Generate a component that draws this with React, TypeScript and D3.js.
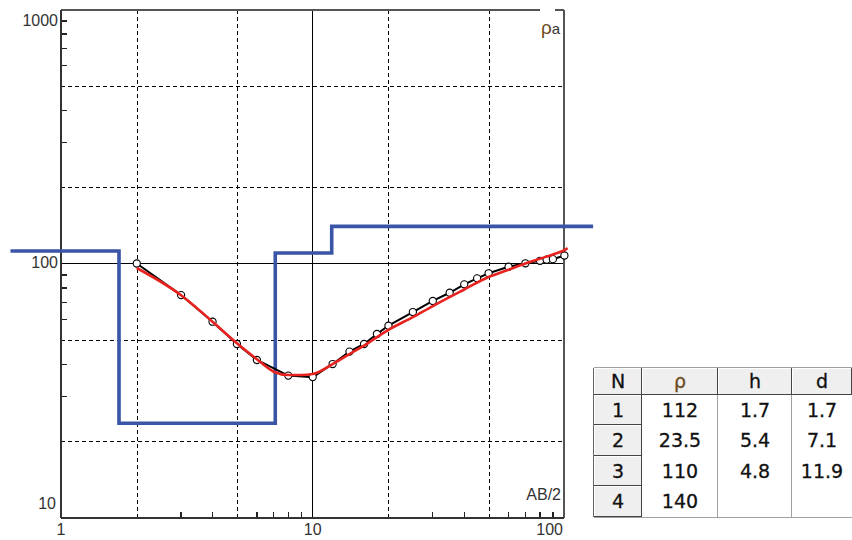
import React from "react";
import * as d3 from "d3";

// field sounding: AB/2 (m) and apparent resistivity (Ohm.m)
const fieldAB = [2, 3, 4, 5, 6, 8, 10, 12, 14, 16, 18, 20, 25, 30, 35, 40, 45, 50, 60, 70, 80, 85, 90, 100];
const fieldRho = [100, 75.1, 59, 48.2, 41.7, 36.2, 35.7, 40.2, 45, 48.2, 52.8, 56.9, 64.4, 71.2, 76.7, 82.8, 87.4, 91.5, 97.1, 100.2, 102.5, 103.5, 104, 107.5];

// calculated curve of the model
const modelAB = [2, 3, 4, 5, 6, 7, 8, 9, 10, 12, 14, 16, 20, 25, 30, 40, 50, 60, 70, 80, 90, 100, 103];
const modelRho = [96, 75, 59, 48.5, 42, 37.5, 36.4, 36.4, 36.7, 40.2, 44, 47.5, 54.8, 61.5, 68, 79, 88.5, 94.5, 100, 104.5, 108.5, 113, 115];

// layer model
const layerN = ["1", "2", "3", "4"];
const layerRho = [112, 23.5, 110, 140];
const layerH = [1.7, 5.4, 4.8];
const layerD = [1.7, 7.1, 11.9];
const stepStart = 0.63;
const stepEnd = 130;

// axes
const xLabels = [1, 10, 100];
const yLabels = [10, 100, 1000];
const xDashed = [2, 5, 20, 50];
const yDashed = [20, 50, 200, 500];
const xMinor = [3, 4, 6, 7, 8, 9, 30, 40, 60, 70, 80, 90];
const yMinor = [30, 40, 60, 70, 80, 90, 300, 400, 600, 700, 800, 900];
const tableHead = ["N", "ρ", "h", "d"];

const x = d3.scaleLog().domain([1, 100]).range([61, 564.4]);
const y = d3.scaleLog().domain([10, 1000]).range([517.5, 9.5]);

const font = "'Liberation Sans', Arial, sans-serif";
const tableFont = "'DejaVu Sans', sans-serif";

export default function App() {
  const left = 61, right = 564.4, top = 9.5, bottom = 517.5;

  const field = fieldAB.map((a, i) => [a, fieldRho[i]] as [number, number]);
  const model = modelAB.map((a, i) => [a, modelRho[i]] as [number, number]);

  const pts = d3.line<[number, number]>().x(d => x(d[0])).y(d => y(d[1]));
  const smooth = d3.line<[number, number]>().x(d => x(d[0])).y(d => y(d[1])).curve(d3.curveMonotoneX);

  // step line of the layer model
  const step: [number, number][] = [];
  let from = stepStart;
  layerRho.forEach((r, i) => {
    const to = i < layerD.length ? layerD[i] : stepEnd;
    step.push([from, r]);
    step.push([to, r]);
    from = to;
  });

  // table geometry
  const colX = [594, 642, 718, 792, 852];
  const rowY = [368, 395, 425, 456, 486, 517];
  const rows = layerN.map((n, i) => [
    n,
    String(layerRho[i]),
    i < layerH.length ? layerH[i].toFixed(1) : "",
    i < layerD.length ? layerD[i].toFixed(1) : "",
  ]);

  const button = (x0: number, y0: number, x1: number, y1: number, key: string) => (
    <g key={key}>
      <rect x={x0} y={y0} width={x1 - x0} height={y1 - y0} fill="#efefef" />
      <line x1={x0 + 0.5} y1={y0 + 0.5} x2={x1 - 1} y2={y0 + 0.5} stroke="#fff" />
      <line x1={x0 + 0.5} y1={y0 + 0.5} x2={x0 + 0.5} y2={y1 - 1} stroke="#fff" />
      <line x1={x0} y1={y1 - 0.5} x2={x1} y2={y1 - 0.5} stroke="#444" />
      <line x1={x1 - 0.5} y1={y0} x2={x1 - 0.5} y2={y1} stroke="#444" />
    </g>
  );

  return (
    <div style={{ position: "fixed", left: 0, top: 0 }}>
      <svg width={852} height={540} style={{ display: "block", background: "#fff" }}>
        {/* grid */}
        <g shapeRendering="crispEdges">
          {xDashed.map(v => (
            <line key={"gx" + v} x1={Math.round(x(v)) + 0.5} x2={Math.round(x(v)) + 0.5} y1={top} y2={bottom}
              stroke="#000" strokeWidth={1.3} strokeDasharray="4,3" />
          ))}
          {yDashed.map(v => (
            <line key={"gy" + v} x1={left} x2={right} y1={Math.round(y(v)) + 0.5} y2={Math.round(y(v)) + 0.5}
              stroke="#000" strokeWidth={1.3} strokeDasharray="4,3" />
          ))}
          <line x1={x(10)} x2={x(10)} y1={top} y2={bottom} stroke="#000" strokeWidth={1.3} />
          <line x1={left} x2={right} y1={y(100)} y2={y(100)} stroke="#000" strokeWidth={1.3} />

          {/* minor ticks */}
          {xMinor.map(v => (
            <line key={"tx" + v} x1={x(v)} x2={x(v)} y1={bottom} y2={bottom - 6} stroke="#222" strokeWidth={1.3} />
          ))}
          {yMinor.map(v => (
            <line key={"ty" + v} x1={left} x2={left + 6} y1={y(v)} y2={y(v)} stroke="#222" strokeWidth={1.3} />
          ))}

          {/* frame */}
          <line x1={left} x2={540} y1={top} y2={top} stroke="#555" strokeWidth={2} />
          <line x1={555} x2={right} y1={top} y2={top} stroke="#555" strokeWidth={2} />
          <line x1={right} x2={right} y1={top} y2={bottom} stroke="#555" strokeWidth={2} />
          <line x1={left} x2={right} y1={bottom} y2={bottom} stroke="#333" strokeWidth={2} />
          <line x1={left} x2={left} y1={top} y2={bottom} stroke="#333" strokeWidth={2} />
        </g>

        {/* layer model */}
        <path d={pts(step) || ""} fill="none" stroke="#3a55a6" strokeWidth={3.6} />

        {/* field data */}
        <path d={pts(field) || ""} fill="none" stroke="#000" strokeWidth={2} />
        {field.map((d, i) => (
          <circle key={"c" + i} cx={x(d[0])} cy={y(d[1])} r={3.6} fill="#fff" stroke="#000" strokeWidth={1.1} />
        ))}

        {/* calculated curve */}
        <path d={smooth(model) || ""} fill="none" stroke="#e8231f" strokeWidth={2.6} />

        {/* axis labels */}
        <g fontFamily={font} fontSize={16} fill="#333">
          <text x={58} y={22} textAnchor="end" dominantBaseline="middle">1000</text>
          <text x={58} y={y(yLabels[1])} textAnchor="end" dominantBaseline="middle">100</text>
          <text x={56} y={505} textAnchor="end" dominantBaseline="middle">10</text>
          <text x={x(xLabels[0])} y={531} textAnchor="middle" dominantBaseline="middle">1</text>
          <text x={x(xLabels[1])} y={531} textAnchor="middle" dominantBaseline="middle">10</text>
          <text x={563} y={531} textAnchor="end" dominantBaseline="middle">100</text>
          <text x={561} y={496} textAnchor="end" dominantBaseline="middle">AB/2</text>
          <text x={541} y={34}>
            <tspan fill="#6b4a20" fontSize={19}>ρ</tspan>
            <tspan fill="#333" fontSize={15}>a</tspan>
          </text>
        </g>

        {/* layer table */}
        <g fontFamily={tableFont} fontSize={19}>
          <rect x={colX[0]} y={rowY[0]} width={colX[4] - colX[0]} height={rowY[5] - rowY[0]} fill="#fff" />
          {tableHead.map((h, j) => button(colX[j], rowY[0], colX[j + 1], rowY[1], "h" + j))}
          {layerN.map((n, i) => button(colX[0], rowY[i + 1], colX[1], rowY[i + 2], "n" + i))}
          {[2, 3].map(j => (
            <line key={"v" + j} x1={colX[j] - 0.5} x2={colX[j] - 0.5} y1={rowY[1]} y2={rowY[5]} stroke="#a0a0a0" />
          ))}
          <line x1={colX[0]} x2={colX[4]} y1={rowY[5] + 0.5} y2={rowY[5] + 0.5} stroke="#a0a0a0" />
          <line x1={colX[0] - 0.5} x2={colX[0] - 0.5} y1={rowY[0]} y2={rowY[5]} stroke="#666" />
          <line x1={colX[0]} x2={colX[4]} y1={rowY[0] - 0.5} y2={rowY[0] - 0.5} stroke="#a0a0a0" />
          {tableHead.map((h, j) => (
            <text key={"ht" + j} x={(colX[j] + colX[j + 1]) / 2} y={(rowY[0] + rowY[1]) / 2 + 1}
              textAnchor="middle" dominantBaseline="middle" fill={j === 1 ? "#6b4a20" : "#111"}
              stroke={j === 1 ? "#6b4a20" : "#111"} strokeWidth={0.3}>{h}</text>
          ))}
          {rows.map((r, i) => r.map((v, j) => (
            <text key={"t" + i + "-" + j} x={(colX[j] + colX[j + 1]) / 2} y={(rowY[i + 1] + rowY[i + 2]) / 2 + 1}
              textAnchor="middle" dominantBaseline="middle" fill="#111" stroke="#111" strokeWidth={0.3}>{v}</text>
          )))}
        </g>
      </svg>
    </div>
  );
}
